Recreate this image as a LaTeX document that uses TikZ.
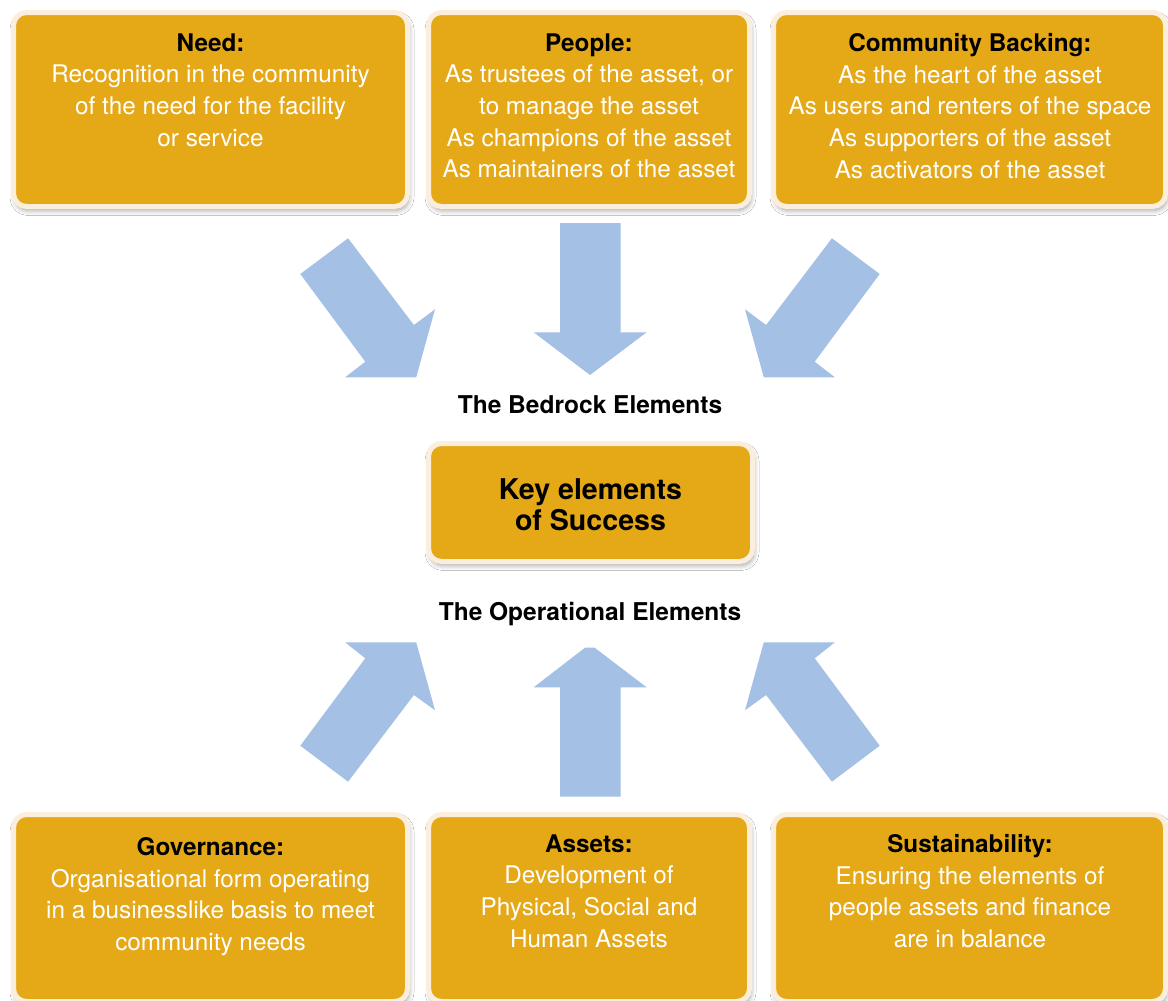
\documentclass[tikz,border=0pt]{standalone}
\usepackage{fontspec}
\setmainfont{TeX Gyre Heros}
\usetikzlibrary{shadows.blur}
\definecolor{gold}{HTML}{E5A817}
\definecolor{cream}{HTML}{FBEEDC}
\definecolor{arrowblue}{HTML}{A4C0E4}
\tikzset{
  boxst/.style={draw=cream, line width=5pt, fill=gold, rounded corners=13pt, inner sep=0pt,
    blur shadow={shadow xshift=1.5pt, shadow yshift=-4pt, shadow blur steps=8, shadow opacity=35, shadow blur radius=5pt}},
  boxtxt/.style={anchor=north, inner sep=0pt, align=center, text=white,
    font=\fontsize{24.3}{31.7}\selectfont},
  lbl/.style={anchor=base, inner sep=0pt, font=\fontsize{24.5}{28}\selectfont\bfseries},
  blockarrow/.style={fill=arrowblue, draw=none}
}
\newcommand{\ttl}[1]{\textcolor{black}{\bfseries #1}}
\begin{document}
\begin{tikzpicture}[x=1pt, y=-1pt]
\useasboundingbox (0,0) rectangle (1168,1001);
\fill[white] (0,0) rectangle (1168,1001);

% boxes
\node[boxst, minimum width=394pt, minimum height=194pt] (need) at (210.5,109.5) {};
\node[boxst, minimum width=321pt, minimum height=194pt] (people) at (589,109.5) {};
\node[boxst, minimum width=392pt, minimum height=194pt] (community) at (969.5,109.5) {};
\node[boxst, minimum width=324pt, minimum height=118pt] (key) at (590.5,502.5) {};
\node[boxst, minimum width=394pt, minimum height=187pt] (governance) at (210.5,908) {};
\node[boxst, minimum width=321pt, minimum height=187pt] (assets) at (589,908) {};
\node[boxst, minimum width=392pt, minimum height=187pt] (sustain) at (969.5,908) {};

% texts
\node[boxtxt] (needtxt) at (210.5,33.2) {\ttl{Need:}\\Recognition in the community\\of the need for the facility\\or service};
\node[boxtxt] (peopletxt) at (589,33.2) {\ttl{People:}\\As trustees of the asset, or\\to manage the asset\\As champions of the asset\\As maintainers of the asset};
\node[boxtxt] (communitytxt) at (970,33.2) {\ttl{Community Backing:}\\As the heart of the asset\\As users and renters of the space\\As supporters of the asset\\As activators of the asset};
\node[anchor=north, inner sep=0pt, align=center, font=\fontsize{28.6}{31}\selectfont\bfseries] (keytxt) at (590.5,478.5) {Key elements\\of Success};
\node[boxtxt] (govtxt) at (210.5,837.2) {\ttl{Governance:}\\Organisational form operating\\in a businesslike basis to meet\\community needs};
\node[boxtxt] (assetstxt) at (589,834.2) {\ttl{Assets:}\\Development of\\Physical, Social and\\Human Assets};
\node[boxtxt] (sustaintxt) at (970,834.2) {\ttl{Sustainability:}\\Ensuring the elements of\\people assets and finance\\are in balance};

\node[lbl] (bedrock) at (590,413.5) {The Bedrock Elements};
\node[lbl] (operational) at (590,620.5) {The Operational Elements};

% block arrows
\fill[blockarrow] (300.3,274) -- (348.1,238.3) -- (413.9,325) -- (435,309.3) -- (416.2,377.3) -- (345.1,377.3) -- (365.3,361.7) -- cycle;
\fill[blockarrow] (560.1,223) -- (620.6,223) -- (620.6,332.3) -- (646.6,332.3) -- (590,375) -- (533.7,332.3) -- (560.1,332.3) -- cycle;
\fill[blockarrow] (879.7,274) -- (831.9,238.3) -- (766.1,325) -- (745,309.3) -- (763.8,377.3) -- (834.9,377.3) -- (814.7,361.7) -- cycle;
\fill[blockarrow] (300.3,745.7) -- (348.1,781.7) -- (413.9,695) -- (435,710.3) -- (416.2,642.3) -- (345.1,642.3) -- (365.3,658.3) -- cycle;
\fill[blockarrow] (560.1,796.7) -- (620.6,796.7) -- (620.6,687.3) -- (646.6,687.3) -- (594.6,647.7) -- (585,647.7) -- (533.7,687.3) -- (560.1,687.3) -- cycle;
\fill[blockarrow] (879.7,745.7) -- (831.9,781.7) -- (766.1,695) -- (745,710.3) -- (763.8,642.3) -- (834.9,642.3) -- (814.7,658.3) -- cycle;
\end{tikzpicture}
\end{document}
